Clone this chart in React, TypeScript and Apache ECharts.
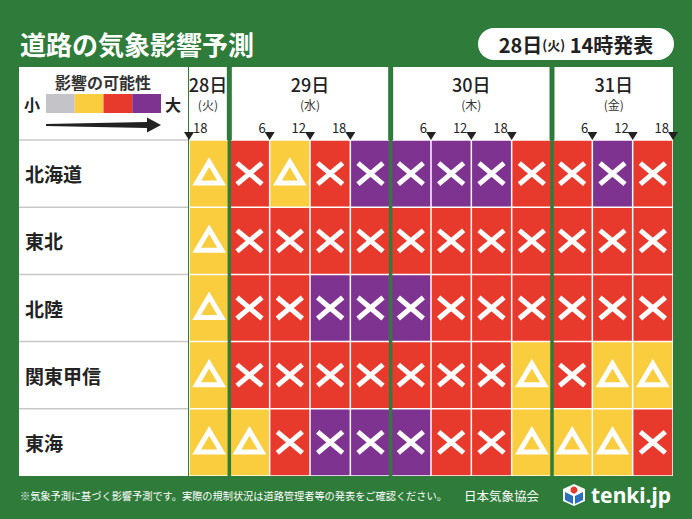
import React, { useEffect, useRef } from 'react';
import * as echarts from 'echarts';

// ---- data ----
const regions = ['北海道', '東北', '北陸', '関東甲信', '東海'];
// 6-hour slots, hours counted from 28日 00:00
const slotStartHours = [18, 24, 30, 36, 42, 48, 54, 60, 66, 72, 78, 84];
const slotHours = 6;
// impact level: 1 grey, 2 yellow (△), 3 red (×), 4 purple (×)
const hokkaido = [2, 3, 2, 3, 4, 4, 4, 4, 3, 3, 4, 3];
const tohoku = [2, 3, 3, 3, 3, 3, 3, 3, 3, 3, 3, 3];
const hokuriku = [2, 3, 3, 4, 4, 4, 3, 3, 3, 3, 3, 3];
const kantoKoshin = [2, 3, 3, 3, 3, 3, 3, 3, 2, 3, 2, 2];
const tokai = [2, 2, 3, 4, 4, 4, 3, 3, 2, 2, 2, 3];
const regionLevels = [hokkaido, tohoku, hokuriku, kantoKoshin, tokai];

const days = ['28日', '29日', '30日', '31日'];
const weekdays = ['(火)', '(水)', '(木)', '(金)'];
const dayStartHours = [18, 24, 48, 72];
const dayEndHours = [24, 48, 72, 90];
const dayBoundaryHours = [24, 48, 72];
const tickHours = [18, 30, 36, 42, 54, 60, 66, 78, 84, 90];
const tickLabels = ['18', '6', '12', '18', '6', '12', '18', '6', '12', '18'];

const levelColors = ['#C4C4C8', '#F9CD3E', '#E8392D', '#7E3391'];
const GREEN = '#2E7B3A';
const FONT = "'Noto Sans CJK JP', 'Noto Sans', sans-serif";

export default function App() {
  const ref = useRef<HTMLDivElement>(null);
  useEffect(() => {
    if (!ref.current) return;
    const chart = echarts.init(ref.current, undefined, { renderer: 'svg' });

    const cellData: number[][] = [];
    regionLevels.forEach((levels, r) => {
      levels.forEach((lv, i) => cellData.push([slotStartHours[i], r, lv]));
    });

    const option: any = {
      animation: false,
      backgroundColor: GREEN,
      grid: {
        left: 189, top: 140, width: 484, height: 336,
        show: true, backgroundColor: '#ffffff', borderWidth: 0,
      },
      xAxis: {
        type: 'value', min: 18, max: 90, show: false,
      },
      yAxis: {
        type: 'category', data: regions, inverse: true, z: 10,
        axisLine: { show: false }, axisTick: { show: false }, splitLine: { show: false },
        axisLabel: {
          align: 'left', margin: 164, color: '#222', fontSize: 19, fontWeight: 'bold', fontFamily: FONT,
        },
      },
      graphic: [
        // label column
        { type: 'rect', z: -1, shape: { x: 19, y: 67, width: 169, height: 409 }, style: { fill: '#fff' } },
        // title
        { type: 'text', z: 10, x: 20, y: 43, style: { text: '道路の気象影響予測', fill: '#fff', font: `bold 26px ${FONT}`, verticalAlign: 'middle' } },
        // badge
        { type: 'rect', z: 10, shape: { x: 478, y: 28, width: 196, height: 32, r: 16 }, style: { fill: '#fff' } },
        {
          type: 'text', z: 11, x: 576, y: 44,
          style: {
            text: '{a|28日}{b|(火)}{a| 14時発表}', align: 'center', verticalAlign: 'middle',
            rich: {
              a: { fontSize: 20, fontWeight: 'bold', fontFamily: FONT, fill: '#222' },
              b: { fontSize: 13, fontWeight: 'bold', fontFamily: FONT, fill: '#222' },
            },
          },
        },
        // legend
        { type: 'text', z: 10, x: 103, y: 82, style: { text: '影響の可能性', fill: '#333', font: `bold 16px ${FONT}`, align: 'center', verticalAlign: 'middle' } },
        { type: 'text', z: 10, x: 32, y: 104, style: { text: '小', fill: '#222', font: `bold 16px ${FONT}`, align: 'center', verticalAlign: 'middle' } },
        { type: 'text', z: 10, x: 173, y: 104, style: { text: '大', fill: '#222', font: `bold 16px ${FONT}`, align: 'center', verticalAlign: 'middle' } },
        ...levelColors.map((c, i) => ({
          type: 'rect', z: 10, shape: { x: 46 + i * 28.75, y: 94, width: 28.75, height: 19 }, style: { fill: c },
        })),
        {
          type: 'polygon', z: 10,
          shape: { points: [[46, 124], [147, 122], [147, 117.5], [161, 125], [147, 132.5], [147, 128], [46, 126]] },
          style: { fill: '#222' },
        },
        // footer
        { type: 'text', z: 10, x: 20, y: 495, style: { text: '※気象予測に基づく影響予測です。実際の規制状況は道路管理者等の発表をご確認ください。', fill: '#fff', font: `10.2px ${FONT}`, verticalAlign: 'middle' } },
        { type: 'text', z: 10, x: 464, y: 495, style: { text: '日本気象協会', fill: '#fff', font: `12.5px ${FONT}`, verticalAlign: 'middle' } },
        {
          type: 'group', z: 10, x: 563, y: 484,
          children: [
            { type: 'polygon', shape: { points: [[11, 0], [22, 5], [22, 17], [11, 22], [0, 17], [0, 5]] }, style: { fill: '#fff' } },
            { type: 'polygon', shape: { points: [[2, 8], [10, 12], [10, 20], [2, 16]] }, style: { fill: '#2C6FC0' } },
            { type: 'polygon', shape: { points: [[20, 8], [12, 12], [12, 20], [20, 16]] }, style: { fill: '#2C6FC0' } },
            { type: 'circle', shape: { cx: 11, cy: 6, r: 3.5 }, style: { fill: '#E8392D' } },
          ],
        },
        { type: 'text', z: 10, x: 591, y: 495, style: { text: 'tenki.jp', fill: '#fff', font: `bold 21px 'Noto Sans', sans-serif`, verticalAlign: 'middle' } },
      ],
      series: [
        // header day boxes
        {
          type: 'custom', z: 3,
          encode: { x: [0, 1], y: 2 },
          data: days.map((_, i) => [dayStartHours[i], dayEndHours[i], i]),
          renderItem: (params: any, api: any) => {
            const i = api.value(2);
            const cs = params.coordSys;
            const xa = api.coord([api.value(0), 0])[0];
            const xb = api.coord([api.value(1), 0])[0];
            const x0 = i === 0 ? xa : xa + 2.5;
            const x1 = i === days.length - 1 ? xb : xb - 2.5;
            const cx = (x0 + x1) / 2;
            return {
              type: 'group',
              children: [
                { type: 'rect', shape: { x: x0, y: cs.y - 73, width: x1 - x0, height: 73 }, style: { fill: '#fff' } },
                { type: 'text', x: cx, y: 84, style: { text: days[i], fill: '#222', font: `500 18px ${FONT}`, align: 'center', verticalAlign: 'middle' } },
                { type: 'text', x: cx, y: 104, style: { text: weekdays[i], fill: '#333', font: `12px ${FONT}`, align: 'center', verticalAlign: 'middle' } },
              ],
            };
          },
        },
        // time ticks
        {
          type: 'custom', z: 4,
          encode: { x: 0, y: 1 },
          data: tickHours.map((h, i) => [h, 0, i]),
          renderItem: (params: any, api: any) => {
            const i = api.value(2);
            const cs = params.coordSys;
            const x = api.coord([api.value(0), 0])[0];
            const yb = cs.y;
            const first = api.value(0) === dayStartHours[0];
            return {
              type: 'group',
              children: [
                { type: 'polygon', shape: { points: [[x - 5, yb - 8], [x + 5, yb - 8], [x, yb]] }, style: { fill: '#222' } },
                {
                  type: 'text', x: first ? x + 4 : x - 4, y: yb - 13,
                  style: { text: tickLabels[i], fill: '#222', font: `13px ${FONT}`, align: first ? 'left' : 'right', verticalAlign: 'middle' },
                },
              ],
            };
          },
        },
        // label column row lines
        {
          type: 'custom', z: 4,
          encode: { x: 0, y: 1 },
          data: regions.map((_, i) => [18, i]),
          renderItem: (params: any, api: any) => {
            const c = api.coord([api.value(0), api.value(1)]);
            const rowH = api.size([0, 1])[1];
            const y = c[1] - rowH / 2;
            return { type: 'line', shape: { x1: 19, y1: y, x2: 188, y2: y }, style: { stroke: '#C8C8C8', lineWidth: 1.5 } };
          },
        },
        // cells
        {
          type: 'custom', z: 2,
          encode: { x: 0, y: 1 },
          data: cellData,
          renderItem: (params: any, api: any) => {
            const h = api.value(0);
            const r = api.value(1);
            const lv = api.value(2);
            const p0 = api.coord([h, r]);
            const p1 = api.coord([h + slotHours, r]);
            const rowH = api.size([0, 1])[1];
            const x0 = p0[0] + 0.75;
            const x1 = p1[0] - 0.75;
            const y0 = p0[1] - rowH / 2 + 0.75;
            const y1 = p0[1] + rowH / 2 - 0.75;
            const cx = (p0[0] + p1[0]) / 2;
            const cy = p0[1];
            const children: any[] = [
              { type: 'rect', shape: { x: x0, y: y0, width: x1 - x0, height: y1 - y0 }, style: { fill: levelColors[lv - 1] } },
            ];
            if (lv === 2) {
              children.push({
                type: 'polygon',
                shape: { points: [[cx, cy - 11.5], [cx + 12.5, cy + 9.5], [cx - 12.5, cy + 9.5]] },
                style: { fill: 'none', stroke: '#fff', lineWidth: 5, lineJoin: 'miter' },
              });
            } else if (lv >= 3) {
              children.push(
                { type: 'line', shape: { x1: cx - 12.5, y1: cy - 10.5, x2: cx + 12.5, y2: cy + 10.5 }, style: { stroke: '#fff', lineWidth: 5 } },
                { type: 'line', shape: { x1: cx + 12.5, y1: cy - 10.5, x2: cx - 12.5, y2: cy + 10.5 }, style: { stroke: '#fff', lineWidth: 5 } },
              );
            }
            return { type: 'group', children };
          },
        },
        // day separators
        {
          type: 'custom', z: 5,
          encode: { x: 0, y: 1 },
          data: dayBoundaryHours.map((h) => [h, 0]),
          renderItem: (params: any, api: any) => {
            const cs = params.coordSys;
            const x = api.coord([api.value(0), 0])[0];
            return { type: 'line', shape: { x1: x, y1: cs.y, x2: x, y2: cs.y + cs.height }, style: { stroke: GREEN, lineWidth: 3.5 } };
          },
        },
      ],
    };
    chart.setOption(option);
    return () => chart.dispose();
  }, []);
  return <div ref={ref} style={{ position: 'fixed', left: 0, top: 0, width: 692, height: 519 }} />;
}
